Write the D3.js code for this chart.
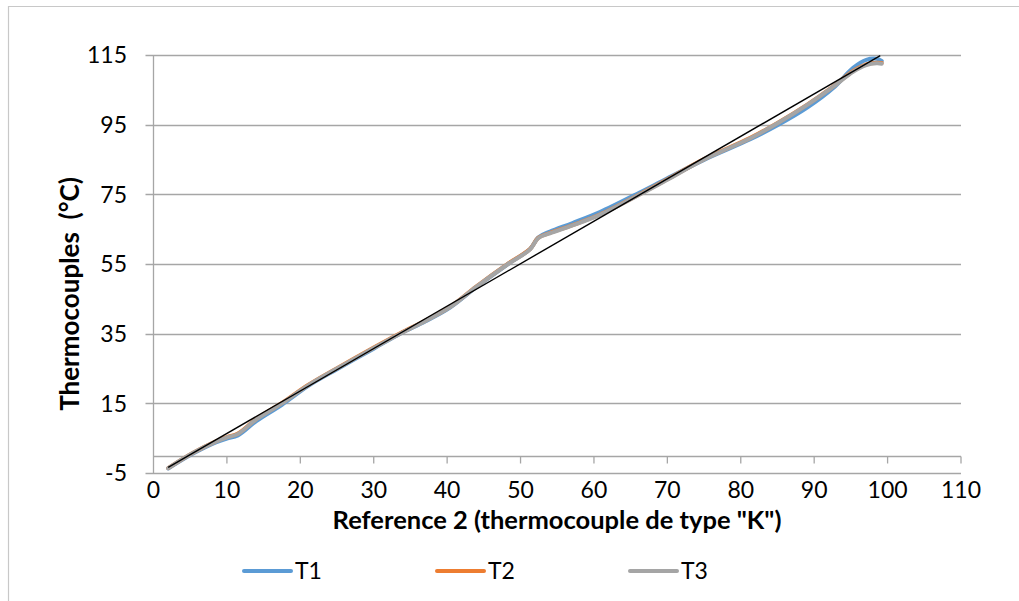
<!DOCTYPE html>
<html><head><meta charset="utf-8">
<script src="https://cdn.jsdelivr.net/npm/d3@7"></script>
<style>body{margin:0;background:#fff}svg{display:block}</style>
</head><body>
<script>
// ---- data ----
const refX = [2, 5.4, 8.5, 10, 11.5, 14, 17.5, 21, 25, 30, 33.6, 37, 40.4, 44, 48.3, 51.3, 52.4, 54, 57, 60.8, 66.3, 70, 75, 81.3, 85, 89, 92.6, 95.3, 97.1, 98.5, 99.2];
const T1 = [-3.7, 0.6, 3.8, 4.9, 5.8, 9.9, 14.6, 19.9, 24.8, 30.7, 35, 38.5, 42.5, 48.4, 55, 59.3, 62.6, 64.3, 66.7, 69.9, 75.6, 79.6, 84.9, 90.8, 94.8, 99.8, 105.5, 111.3, 113.6, 113.9, 113.3];
const T2 = [-3.6, 0.8, 4.1, 5.3, 6.3, 10.5, 15.1, 20.2, 25.1, 31.0, 35.1, 38.7, 42.7, 48.6, 55.1, 59.3, 62.5, 63.9, 66.1, 69.2, 75.1, 79.3, 85.1, 91.2, 95.5, 100.7, 106.0, 110.4, 112.3, 112.8, 112.7];
const T3 = [-3.6, 0.8, 4.0, 5.2, 6.2, 10.4, 15.0, 20.1, 25.0, 30.9, 35.0, 38.6, 42.6, 48.5, 55.0, 59.2, 62.4, 63.8, 66.0, 69.1, 75.0, 79.2, 85.0, 91.1, 95.4, 100.6, 105.9, 110.2, 112.1, 112.6, 112.5];
const trendX = [2, 99];
const trendY = [-3.4, 114.8];
const xTicks = [0, 10, 20, 30, 40, 50, 60, 70, 80, 90, 100, 110];
const yTicks = [-5, 15, 35, 55, 75, 95, 115];
const seriesNames = ["T1", "T2", "T3"];
const seriesColors = ["#5B9BD5", "#ED7D31", "#A5A5A5"];
const xTitle = 'Reference 2 (thermocouple de type "K")';
const yTitle = 'Thermocouples  (°C)';

const W = 1019, H = 601;
const svg = d3.select("body").append("svg").attr("width", W).attr("height", H);
const font = "Lato, 'Open Sans', sans-serif";

// outer border
svg.append("path").attr("d", `M8.5,${H+5} V6.5 H${W+5}`).attr("fill","none").attr("stroke","#c8c8c8").attr("stroke-width",1.2);

const x = d3.scaleLinear().domain([0, 110]).range([153.5, 961]);
const y = d3.scaleLinear().domain([-5, 115]).range([473, 55]);
const gridCol = "#a6a6a6";

// horizontal gridlines with outside ticks
svg.append("g").selectAll("line").data(yTicks).join("line")
  .attr("x1", 145.5).attr("x2", x(110))
  .attr("y1", d => Math.round(y(d)) + 0.5).attr("y2", d => Math.round(y(d)) + 0.5)
  .attr("stroke", gridCol).attr("stroke-width", 1.3);

// y axis line
svg.append("line").attr("x1", x(0)).attr("x2", x(0)).attr("y1", y(115)).attr("y2", y(-5))
  .attr("stroke", gridCol).attr("stroke-width", 1.3);

// x axis at y = 0
const y0 = Math.round(y(0)) + 0.5;
svg.append("line").attr("x1", x(0)).attr("x2", x(110)).attr("y1", y0).attr("y2", y0)
  .attr("stroke", gridCol).attr("stroke-width", 1.3);
svg.append("g").selectAll("line").data(xTicks.slice(1)).join("line")
  .attr("x1", d => x(d)).attr("x2", d => x(d)).attr("y1", y0).attr("y2", y0 + 7)
  .attr("stroke", gridCol).attr("stroke-width", 1.3);

// tick labels
svg.append("g").selectAll("text").data(yTicks).join("text")
  .attr("x", 127).attr("y", d => y(d)).attr("dy", "0.36em")
  .attr("text-anchor", "end").attr("font-family", font).attr("font-size", 23).attr("fill", "#000")
  .text(d => d);
svg.append("g").selectAll("text").data(xTicks).join("text")
  .attr("x", d => x(d)).attr("y", 490).attr("dy", "0.36em")
  .attr("text-anchor", "middle").attr("font-family", font).attr("font-size", 23).attr("fill", "#000")
  .text(d => d);

// axis titles
svg.append("text").attr("x", 557).attr("y", 520).attr("dy", "0.36em").attr("text-anchor", "middle")
  .attr("font-family", font).attr("font-size", 25.5).attr("font-weight", "bold").text(xTitle);
svg.append("text").attr("transform", "translate(70,294) rotate(-90)").attr("dy", "0.36em").attr("text-anchor", "middle")
  .attr("font-family", font).attr("font-size", 26).attr("font-weight", "bold").style("white-space","pre").text(yTitle);

// series
const line = d3.line().x(d => x(d[0])).y(d => y(d[1])).curve(d3.curveCatmullRom.alpha(0.5));
[T1, T2, T3].forEach((s, i) => {
  svg.append("path").datum(refX.map((v, j) => [v, s[j]]))
    .attr("d", line).attr("fill", "none").attr("stroke", seriesColors[i])
    .attr("stroke-width", 4).attr("stroke-linecap", "round").attr("stroke-linejoin", "round");
});

// trend line
svg.append("path").datum(trendX.map((v, j) => [v, trendY[j]]))
  .attr("d", d3.line().x(d => x(d[0])).y(d => y(d[1])))
  .attr("stroke", "#000").attr("stroke-width", 1.4).attr("fill", "none");

// legend
const legX = [244, 437, 630];
seriesNames.forEach((n, i) => {
  svg.append("line").attr("x1", legX[i]).attr("x2", legX[i] + 47).attr("y1", 571).attr("y2", 571)
    .attr("stroke", seriesColors[i]).attr("stroke-width", 4).attr("stroke-linecap", "round");
  svg.append("text").attr("x", legX[i] + 51).attr("y", 571).attr("dy", "0.36em")
    .attr("font-family", font).attr("font-size", 23).text(n);
});
</script>
</body></html>
